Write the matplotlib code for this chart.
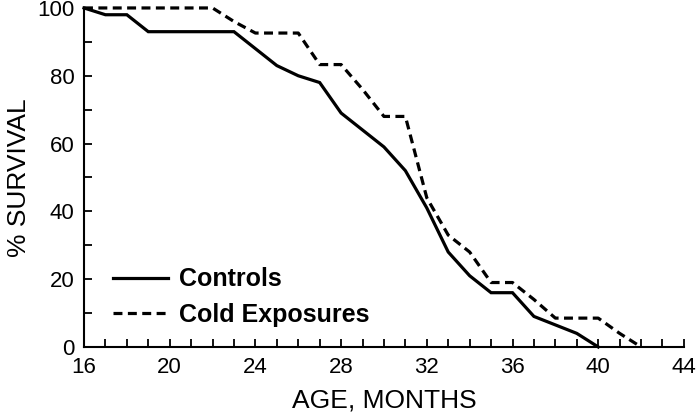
import matplotlib
matplotlib.use("Agg")
import matplotlib.pyplot as plt
from matplotlib.ticker import MultipleLocator

plt.rcParams['font.family'] = ['Liberation Sans', 'DejaVu Sans']

# Survival curves
months = list(range(16, 43))
controls = [100, 98, 98, 93, 93, 93, 93, 93, 88, 83, 80, 78, 69, 64, 59, 52, 41,
            28, 21, 16, 16, 9, 6.5, 4, 0, None, None]
cold = [100, 100, 100, 100, 100, 100, 100, 96, 92.6, 92.6, 92.6, 83.3, 83.3, 76, 68,
        68, 44, 33, 28, 19, 19, 14, 8.5, 8.5, 8.5, 4, 0]

ctrl_x = [m for m, v in zip(months, controls) if v is not None]
ctrl_y = [v for v in controls if v is not None]

fig = plt.figure(figsize=(7, 4.19), dpi=100)
ax = fig.add_axes([0.12, 0.172, 0.857, 0.809])

ax.plot(ctrl_x, ctrl_y, color="black", linewidth=2.3, label="Controls",
        solid_joinstyle="miter", clip_on=False)
ax.plot(months, cold, color="black", linewidth=2.3, linestyle=(0, (2.8, 1.7)),
        label="Cold Exposures", clip_on=False)

ax.set_xlim(16, 44)
ax.set_ylim(0, 100)
ax.xaxis.set_major_locator(MultipleLocator(4))
ax.xaxis.set_minor_locator(MultipleLocator(1))
ax.yaxis.set_major_locator(MultipleLocator(20))
ax.yaxis.set_minor_locator(MultipleLocator(10))
ax.tick_params(which="both", direction="in", length=5.5, width=1.3, labelsize=16)
ax.tick_params(axis="x", pad=7)
ax.tick_params(axis="y", pad=7)

for s in ["top", "right"]:
    ax.spines[s].set_visible(False)
for s in ["left", "bottom"]:
    ax.spines[s].set_linewidth(1.5)

ax.set_xlabel("AGE, MONTHS", fontsize=19, labelpad=8)
ax.set_ylabel("% SURVIVAL", fontsize=19, labelpad=4)

ax.legend(loc="lower left", bbox_to_anchor=(0.048, 0.06), frameon=False,
          prop={"weight": "bold", "size": 18}, handlelength=2.2,
          handletextpad=0.45, labelspacing=0.45, borderpad=0, borderaxespad=0)

fig.savefig("out.png", dpi=100)
